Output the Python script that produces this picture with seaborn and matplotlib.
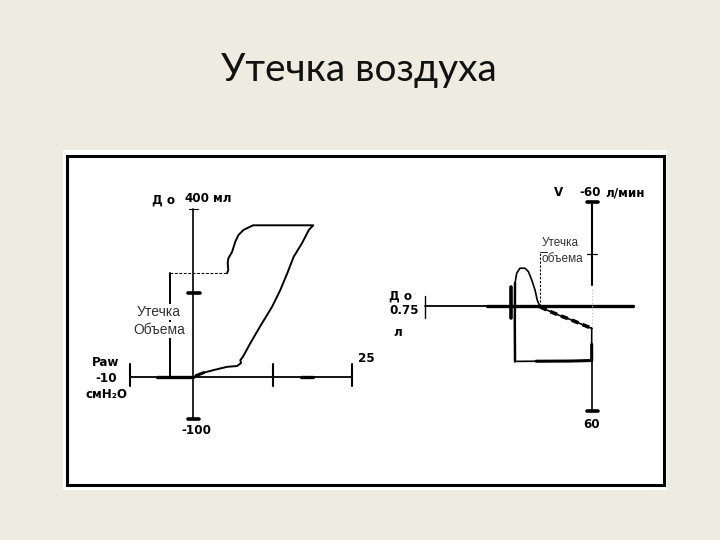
import matplotlib
matplotlib.use("Agg")
import matplotlib.pyplot as plt
import matplotlib.patches as mpatches
import seaborn as sns
import numpy as np

sns.set_style("white")
plt.rcParams['font.family'] = ['Liberation Sans', 'DejaVu Sans']

# ---------------- data ----------------
title = "Утечка воздуха"

# Left: pressure-volume loop (Paw, cmH2O  vs  volume, ml)
pv_pressure = [1.6, 3.1, 5.3, 6.9, 7.5, 7.4, 7.8, 9.0, 10.5, 12.4, 13.7, 14.8, 15.8,
               17.1, 18.2, 18.9, 9.4, 7.9, 7.1, 6.6, 6.1, 5.5, 5.4, 5.5, 5.3]
pv_volume = [9, 15, 23, 25, 32, 39, 47, 80, 119, 166, 206, 246, 285,
             317, 349, 360, 360, 349, 337, 321, 297, 281, 270, 254, 246]
pv_leak_pressure = -3.7      # position of the leak marker
pv_leak_volume = 246         # leaked volume level
pv_x_ticks = [-10, 12.5, 25]
pv_y_ticks = [400, 200, -100]

# Right: flow-volume loop (volume, l  vs  flow, l/min)
fv_volume = [0.0, 0.0, 0.0, 0.10, 0.25, 0.345, 0.346, 0.345, 0.3375, 0.323, 0.300,
             0.285, 0.270, 0.255, 0.245, 0.233, 0.2025, 0.150, 0.098, 0.0]
fv_flow = [12.7, 22.0, 31.2, 31.5, 31.6, 31.7, 10.0, -13.3, -19.0, -21.9, -21.9,
           -20.0, -15.2, -9.4, -3.6, 0.2, 2.1, 5.0, 7.5, 12.7]
fv_leak_volume = 0.233
fv_y_ticks = [-60, -30, 60]
fv_x_end = 0.75

W, H = 720, 540
fig = plt.figure(figsize=(7.2, 5.4), dpi=100, facecolor="#EEECE1")

# background overlay (pixel coordinates) for the white frame
bg = fig.add_axes([0, 0, 1, 1], zorder=0)
bg.set_xlim(0, W); bg.set_ylim(H, 0); bg.axis("off")
bg.add_patch(mpatches.Rectangle((63, 150), 604, 340, facecolor="white", edgecolor="none"))
bg.add_patch(mpatches.Rectangle((66.5, 156), 597, 329, facecolor="none",
                                edgecolor="black", lw=2.2))


def place(box, xa, xb, ya, yb, z=1):
    L, T, R, B = box
    ppx = (xb[0] - xa[0]) / (xb[1] - xa[1])
    ppy = (yb[0] - ya[0]) / (yb[1] - ya[1])
    ax = fig.add_axes([L / W, 1 - B / H, (R - L) / W, (B - T) / H], zorder=z)
    ax.set_xlim(xa[1] + (L - xa[0]) / ppx, xa[1] + (R - xa[0]) / ppx)
    ax.set_ylim(ya[1] + (B - ya[0]) / ppy, ya[1] + (T - ya[0]) / ppy)
    ax.axis("off")
    ax.patch.set_alpha(0)
    return ax


# ---------------- left chart ----------------
axl = place((90, 170, 395, 470), (130, -10), (352, 25), (376.5, 0), (208.5, 400))
k = "black"
axl.plot([pv_x_ticks[0], pv_x_ticks[-1]], [0, 0], color=k, lw=1.3)
axl.plot([-5.8, 0], [0, 0], color=k, lw=2.4)
axl.plot([17.0, 18.9], [0, 0], color=k, lw=2.4)
for t in pv_x_ticks:
    axl.plot([t, t], [-22, 30], color=k, lw=1.5)
axl.plot([0, 0], [pv_y_ticks[-1], pv_y_ticks[0]], color=k, lw=1.2)
axl.plot([-0.7, 0.7], [pv_y_ticks[0], pv_y_ticks[0]], color=k, lw=0.8)
axl.plot([-0.8, 1.0], [pv_y_ticks[1], pv_y_ticks[1]], color=k, lw=2.6)
axl.plot([-0.8, 0.8], [pv_y_ticks[2], pv_y_ticks[2]], color=k, lw=2.6)
sns.lineplot(x=pv_pressure, y=pv_volume, sort=False, estimator=None, ax=axl,
             color=k, lw=1.4)
axl.plot([pv_pressure[0], 0.4], [pv_volume[0], 2], color=k, lw=2.2)
axl.plot([pv_leak_pressure, pv_pressure[-1]], [pv_leak_volume, pv_leak_volume],
         color=k, lw=0.8, ls=(0, (2.5, 1.5)))
axl.plot([pv_leak_pressure, pv_leak_pressure], [0, pv_leak_volume], color=k, lw=1.4)

# ---------------- right chart ----------------
axr = place((380, 170, 662, 470), (591.7, 0.0), (425, fv_x_end), (306.3, 0), (202, -60))
axr.plot([fv_x_end, 0.4725], [0, 0], color=k, lw=1.3)
axr.plot([0.4725, -0.186], [0, 0], color=k, lw=2.4)
axr.plot([fv_x_end, fv_x_end], [-6, 7], color=k, lw=1.0)
axr.plot([0.363, 0.363], [-11, 7], color=k, lw=2.6)
axr.plot([0, 0], [fv_y_ticks[0], -12], color=k, lw=1.5)
axr.plot([0, 0], [31, fv_y_ticks[-1]], color=k, lw=1.2)
axr.plot([0, 0], [-10, 12], color="#bbbbbb", lw=0.8, ls=(0, (1, 2)))
axr.plot([0.0225, -0.03], [fv_y_ticks[0], fv_y_ticks[0]], color=k, lw=2.6)
axr.plot([0.0225, -0.0225], [fv_y_ticks[1], fv_y_ticks[1]], color=k, lw=0.9)
axr.plot([0.0225, -0.03], [fv_y_ticks[2], fv_y_ticks[2]], color=k, lw=2.6)
sns.lineplot(x=fv_volume, y=fv_flow, sort=False, estimator=None, ax=axr,
             color=k, lw=1.2)
axr.plot(fv_volume[1:5], fv_flow[1:5], color=k, lw=2.2)
axr.plot(fv_volume[5:8], fv_flow[5:8], color=k, lw=1.8)
axr.plot(fv_volume[15:], fv_flow[15:], color=k, lw=2.6, ls=(0, (2, 1.2)))
axr.plot([fv_leak_volume, fv_leak_volume], [0, -31.3], color=k, lw=0.8,
         ls=(0, (2, 1.5)))
axr.plot([fv_leak_volume, fv_leak_volume - 0.03], [-31.3, -31.3], color=k, lw=0.6)

# ---------------- texts (pixel overlay) ----------------
tx = fig.add_axes([0, 0, 1, 1], zorder=5)
tx.set_xlim(0, W); tx.set_ylim(H, 0); tx.axis("off"); tx.patch.set_alpha(0)

tx.text(359, 70, title, ha="center", va="center", fontsize=28,
        family=["Lato", "DejaVu Sans"], color="#111111")

bold = dict(family=["DejaVu Sans"], fontweight="bold", fontstretch="condensed",
            fontsize=9.5, color="black", va="center")
tx.text(164, 200, "Д о", ha="center", **bold)
tx.text(197, 199, "400", ha="center", **bold)
tx.text(222, 199, "мл", ha="center", **bold)
tx.text(106, 363, "Paw", ha="center", **bold)
tx.text(106, 379, "-10", ha="center", **bold)
tx.text(106, 395, "смН₂О", ha="center", **bold)
tx.text(366, 358, "25", ha="center", **bold)
tx.text(196, 431, "-100", ha="center", **bold)

tx.text(159, 312, "Утечка", ha="center", va="center", fontsize=10, color="#333333",
        bbox=dict(facecolor="white", edgecolor="none", pad=1))
tx.text(159, 330, "Объема", ha="center", va="center", fontsize=10, color="#333333",
        bbox=dict(facecolor="white", edgecolor="none", pad=1))

tx.text(559, 193, "V", ha="center", **bold)
tx.text(590, 193, "-60", ha="center", **bold)
tx.text(625, 193, "л/мин", ha="center", **bold)
tx.text(389, 296, "Д о", ha="left", **bold)
tx.text(389, 311, "0.75", ha="left", **bold)
tx.text(393, 332, "л", ha="left", **bold)
tx.text(592, 425, "60", ha="center", **bold)
tx.text(542, 243, "Утечка", ha="left", va="center", fontsize=8.5, color="#333333")
tx.text(542, 259.5, "объема", ha="left", va="center", fontsize=8.5, color="#333333")

fig.savefig("out.png", dpi=100, facecolor=fig.get_facecolor())
